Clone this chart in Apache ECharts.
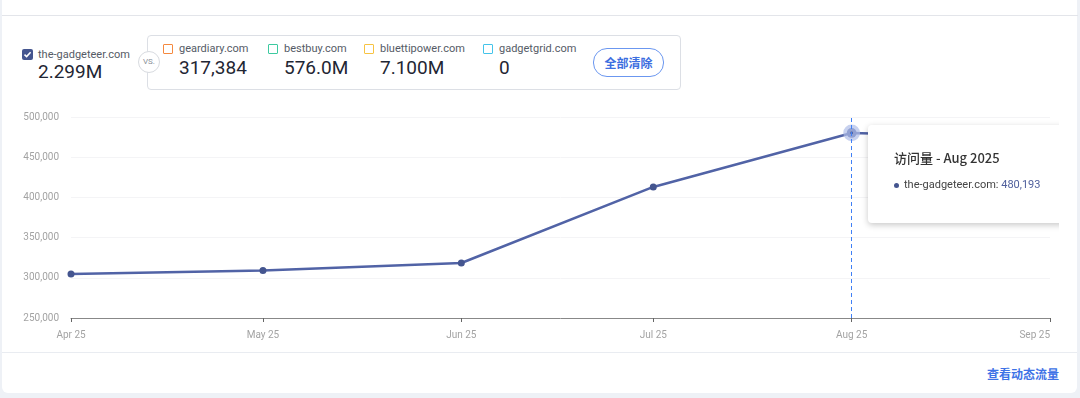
<!DOCTYPE html>
<html>
<head>
<meta charset="utf-8">
<script src="https://cdn.jsdelivr.net/npm/echarts@6/dist/echarts.min.js"></script>
<style>
  html, body { margin: 0; padding: 0; }
  body {
    width: 1080px; height: 398px; overflow: hidden;
    background: #eef1f6;
    font-family: Roboto, "Noto Sans CJK SC", sans-serif;
    position: relative;
  }
  .card {
    position: absolute; left: 2px; top: -10px; width: 1075px; height: 403px;
    background: #fff; border-radius: 6px;
  }
  .topline { position: absolute; left: 2px; top: 15px; width: 1076px; height: 1px; background: #e3e5ea; }
  .divider { position: absolute; left: 2px; top: 352px; width: 1075px; height: 1px; background: #e9ecf1; }
  .main { position: absolute; left: 22px; top: 46px; }
  .chk {
    position: absolute; left: 0; top: 3px; width: 11px; height: 11px; border-radius: 2px;
    background: #44558f;
  }
  .chk svg { position: absolute; left: 1px; top: 1px; }
  .name { font-size: 11px; color: #555b66; line-height: 14px; white-space: nowrap; }
  .val { font-size: 19px; color: #1f2633; line-height: 22px; margin-top: 1px; white-space: nowrap; }
  .main .name, .main .val { margin-left: 16px; }
  .main .name { margin-top: 2px; }
  .main .val { margin-top: -1px; }
  .box {
    position: absolute; left: 147px; top: 35px; width: 532px; height: 53px;
    border: 1px solid #dcdfe5; border-radius: 4px;
  }
  .vs {
    position: absolute; left: 138px; top: 51px; width: 20px; height: 20px; border-radius: 50%;
    border: 1px solid #d8dbe0; background: #fff; font-size: 8px; color: #8a8f98;
    text-align: center; line-height: 20px;
  }
  .item { position: absolute; top: 6px; }
  .sq { position: absolute; left: -16px; top: 2px; width: 8px; height: 8px; border: 1.6px solid; border-radius: 1px; }
  .btn {
    position: absolute; left: 445px; top: 12px; width: 69px; height: 27px;
    border: 1px solid #6b97f0; border-radius: 14px; color: #3d6fe0;
    font-family: "Noto Sans CJK SC", sans-serif; font-size: 12px; font-weight: 700;
    text-align: center; line-height: 27px;
  }
  .link {
    position: absolute; left: 987px; top: 365px; color: #3d72e6;
    font-family: "Noto Sans CJK SC", sans-serif; font-size: 12px; font-weight: 700;
  }
  #chart { position: absolute; left: 0; top: 100px; width: 1059px; height: 250px; overflow: hidden; }
</style>
</head>
<body>
<div class="card"></div>
<div class="topline"></div>
<div class="divider"></div>

<div class="main">
  <div class="chk"><svg width="9" height="9" viewBox="0 0 9 9"><path d="M1.5 4.6 L3.6 6.6 L7.6 2.2" stroke="#fff" stroke-width="1.5" fill="none"/></svg></div>
  <div class="name">the-gadgeteer.com</div>
  <div class="val">2.299M</div>
</div>

<div class="box" id="box"></div>
<div class="vs">VS.</div>
<div class="link">查看动态流量</div>

<div id="chart"></div>

<script>
// header figures
const mainSite = 'the-gadgeteer.com'
const competitors = ['geardiary.com', 'bestbuy.com', 'bluettipower.com', 'gadgetgrid.com']
const competitorTotals = ['317,384', '576.0M', '7.100M', '0']
const competitorColors = ['#f5893f', '#3ccaa0', '#f7c343', '#44c4ea']

// chart data
const months = ['2025-04-01', '2025-05-01', '2025-06-01', '2025-07-01', '2025-08-01', '2025-09-01']
const visits = [304700, 309000, 318400, 413000, 480193, 474000]
const tickMonths = ['2025-04-01', '2025-05-01', '2025-06-01', '2025-07-01', '2025-08-01', '2025-09-01']
const monthNames = ['Jan', 'Feb', 'Mar', 'Apr', 'May', 'Jun', 'Jul', 'Aug', 'Sep', 'Oct', 'Nov', 'Dec']

const itemLeft = [31, 136, 232, 351]
const box = document.getElementById('box')
competitors.forEach((c, i) => {
  const el = document.createElement('div')
  el.className = 'item'
  el.style.left = itemLeft[i] + 'px'
  el.innerHTML = `<div class="sq" style="border-color:${competitorColors[i]}"></div>
    <div class="name">${c}</div><div class="val">${competitorTotals[i]}</div>`
  box.appendChild(el)
})
const btn = document.createElement('div')
btn.className = 'btn'
btn.textContent = '全部清除'
box.appendChild(btn)

const ts = s => new Date(s + 'T00:00:00Z').getTime()
const tickValues = tickMonths.map(ts)

const pointerStyle = { color: '#3f7ff5', type: [4, 3], width: 1 }

const chart = echarts.init(document.getElementById('chart'))
chart.setOption({
  animation: false,
  textStyle: { fontFamily: 'Roboto, "Noto Sans CJK SC", sans-serif' },
  grid: { left: 71, right: 9, top: 17, bottom: 32, outerBoundsMode: 'none' },
  axisPointer: {
    type: 'line',
    label: { show: false },
    lineStyle: pointerStyle
  },
  tooltip: {
    trigger: 'axis',
    triggerOn: 'none',
    alwaysShowContent: true,
    confine: false,
    backgroundColor: '#fff',
    borderWidth: 0,
    padding: [25, 20, 30, 26],
    extraCssText: 'width:230px;border-radius:4px;box-shadow:0 2px 6px rgba(0,0,0,0.22);',
    position: (pt) => [pt[0] + 16, pt[1] - 8],
    axisPointer: {
      type: 'line',
      label: { show: false },
      lineStyle: pointerStyle
    },
    formatter: params => {
      const p = params[0]
      const d = new Date(p.value[0])
      const title = `访问量 - ${monthNames[d.getUTCMonth()]} ${d.getUTCFullYear()}`
      return `<div style="font-family:'Noto Sans CJK SC',sans-serif;font-size:13px;font-weight:500;color:#333;line-height:16px">${title}</div>
        <div style="margin-top:11px;font-size:11px;color:#444;line-height:16px;white-space:nowrap">
        <span style="display:inline-block;width:5px;height:5px;border-radius:50%;background:#44558f;vertical-align:middle;margin-right:5px"></span>${mainSite}: <span style="color:#4f5f9c">${p.value[1].toLocaleString('en-US')}</span></div>`
    }
  },
  xAxis: {
    type: 'value',
    min: ts(months[0]),
    max: ts(months[months.length - 1]),
    axisPointer: { show: true, type: 'line', label: { show: false }, lineStyle: pointerStyle },
    axisLine: { lineStyle: { color: '#888', width: 1 } },
    axisTick: { show: true, length: 4, customValues: tickValues, lineStyle: { color: '#666' } },
    axisLabel: {
      customValues: tickValues,
      color: '#a3a3a3',
      fontSize: 10,
      margin: 12,
      alignMaxLabel: 'right',
      formatter: v => {
        const d = new Date(v)
        return monthNames[d.getUTCMonth()] + ' ' + String(d.getUTCFullYear()).slice(2)
      }
    },
    splitLine: { show: false }
  },
  yAxis: {
    type: 'value',
    min: 250000,
    max: 500000,
    interval: 50000,
    axisLine: { show: false },
    axisTick: { show: false },
    axisLabel: {
      color: '#a3a3a3',
      fontSize: 10,
      margin: 12,
      formatter: v => v.toLocaleString('en-US')
    },
    splitLine: { lineStyle: { color: '#f4f4f6' } }
  },
  series: [{
    name: mainSite,
    type: 'line',
    data: months.map((m, i) => [ts(m), visits[i]]),
    symbol: 'circle',
    symbolSize: 7,
    showAllSymbol: true,
    lineStyle: { color: '#4a5a97', width: 2.5 },
    itemStyle: { color: '#44558f' },
    emphasis: {
      scale: 1.4,
      itemStyle: { borderColor: 'rgba(175,190,232,0.7)', borderWidth: 7 }
    }
  }]
})

chart.dispatchAction({ type: 'showTip', seriesIndex: 0, dataIndex: 4 })
chart.dispatchAction({ type: 'highlight', seriesIndex: 0, dataIndex: 4 })
</script>
</body>
</html>
